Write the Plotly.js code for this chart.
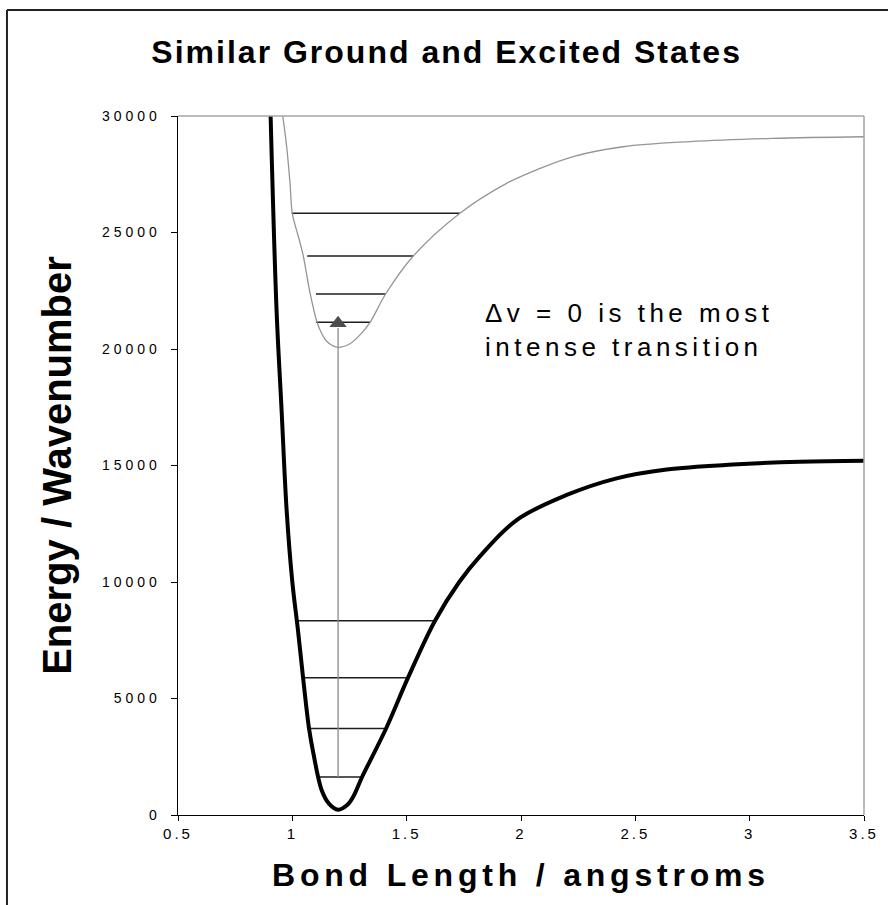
<!DOCTYPE html>
<html>
<head>
<meta charset="utf-8">
<script src="https://cdn.plot.ly/plotly-3.0.1.min.js"></script>
<style>
html, body { margin: 0; padding: 0; background: #ffffff; }
#chart { width: 888px; height: 905px; }
.gtitle { letter-spacing: 2px; }
.xtitle { letter-spacing: 4.8px; }
.xtick text { letter-spacing: 3px; }
.ytick text { letter-spacing: 4px; }
.annotation-text { letter-spacing: 4.5px; }
</style>
</head>
<body>
<div id="chart"></div>
<script>
// Ground state potential curve (bond length / angstroms, energy / wavenumber)
const groundX = [0.905, 0.931, 0.953, 0.975, 1.0, 1.025, 1.047, 1.073, 1.092, 1.128, 1.16, 1.2, 1.24, 1.267, 1.305, 1.41, 1.506, 1.624, 1.73, 1.82, 1.981, 2.2, 2.418, 2.637, 2.927, 3.22, 3.5];
const groundE = [30000, 21670, 17380, 13090, 10000, 7900, 5893, 3712, 2650, 1073, 490, 230, 430, 800, 1631, 3712, 5893, 8340, 10000, 11100, 12660, 13735, 14450, 14830, 15040, 15160, 15200];

// Excited state potential curve
const excitedX = [0.958, 0.975, 0.99, 1.0, 1.03, 1.048, 1.078, 1.108, 1.128, 1.15, 1.175, 1.2, 1.25, 1.3, 1.34, 1.408, 1.529, 1.733, 1.937, 2.083, 2.228, 2.447, 2.739, 3.10, 3.5];
const excitedE = [30000, 28700, 27100, 25825, 24700, 23990, 22375, 21146, 20674, 20330, 20150, 20070, 20215, 20650, 21146, 22361, 23992, 25830, 27110, 27750, 28260, 28680, 28900, 29040, 29110];

// Vibrational levels
const groundLevelE = [1631, 3712, 5893, 8340];
const groundLevelLeft = [1.12, 1.073, 1.047, 1.02];
const groundLevelRight = [1.305, 1.41, 1.506, 1.624];
const excitedLevelE = [21146, 22361, 23992, 25825];
const excitedLevelLeft = [1.103, 1.103, 1.065, 0.997];
const excitedLevelRight = [1.34, 1.408, 1.529, 1.733];

// Vertical transition arrow
const transitionX = [1.2, 1.2];
const transitionE = [1631, 20900];
const arrowHeadX = [1.2];
const arrowHeadE = [21100];

// Axis ticks
const xTickVals = [0.5, 1, 1.5, 2, 2.5, 3, 3.5];
const xTickText = ['0.5', '1', '1.5', '2', '2.5', '3', '3.5'];
const yTickVals = [0, 5000, 10000, 15000, 20000, 25000, 30000];
const yTickText = ['0', '5000', '10000', '15000', '20000', '25000', '30000'];

function levelSegments(lefts, rights, levels) {
  const xs = [], ys = [];
  for (let i = 0; i < levels.length; i++) {
    xs.push(lefts[i], rights[i], null);
    ys.push(levels[i], levels[i], null);
  }
  return { x: xs, y: ys };
}
const gl = levelSegments(groundLevelLeft, groundLevelRight, groundLevelE);
const el = levelSegments(excitedLevelLeft, excitedLevelRight, excitedLevelE);

const FONT = 'Liberation Sans, Arial, Helvetica, sans-serif';

const traces = [
  { x: gl.x, y: gl.y, mode: 'lines', line: { color: '#1e1e1e', width: 1.4 }, hoverinfo: 'skip' },
  { x: el.x, y: el.y, mode: 'lines', line: { color: '#1e1e1e', width: 1.4 }, hoverinfo: 'skip' },
  { x: transitionX, y: transitionE, mode: 'lines', line: { color: '#8a8a8a', width: 1.3 }, hoverinfo: 'skip' },
  { x: arrowHeadX, y: arrowHeadE, mode: 'markers', marker: { symbol: 'triangle-up', size: 15, color: '#4d4d4d' }, hoverinfo: 'skip' },
  { x: excitedX, y: excitedE, mode: 'lines', line: { color: '#959595', width: 1.3, shape: 'spline', smoothing: 1 }, hoverinfo: 'skip' },
  { x: groundX, y: groundE, mode: 'lines', line: { color: '#000000', width: 4, shape: 'spline', smoothing: 1 }, hoverinfo: 'skip' }
];

const layout = {
  width: 888,
  height: 905,
  margin: { l: 178, r: 24, t: 116, b: 90, pad: 0 },
  paper_bgcolor: '#ffffff',
  plot_bgcolor: '#ffffff',
  showlegend: false,
  font: { family: FONT, color: '#000000' },
  title: {
    text: 'Similar Ground and Excited States',
    font: { family: FONT, size: 32, weight: 'bold', color: '#000000' },
    x: 0.503, xref: 'container', xanchor: 'center',
    y: 0.9425, yref: 'container', yanchor: 'middle'
  },
  xaxis: {
    range: [0.5, 3.5],
    tickmode: 'array', tickvals: xTickVals, ticktext: xTickText,
    ticks: 'outside', ticklen: 5, tickwidth: 1, tickcolor: '#000000',
    showline: true, linecolor: '#000000', linewidth: 1.3,
    showgrid: false, zeroline: false,
    tickfont: { family: FONT, size: 15, color: '#000000' },
    title: { text: 'Bond Length / angstroms', font: { family: FONT, size: 32, weight: 'bold', color: '#000000' }, standoff: 22 }
  },
  yaxis: {
    range: [0, 30000],
    tickmode: 'array', tickvals: yTickVals, ticktext: yTickText,
    ticks: 'outside', ticklen: 6, tickwidth: 1, tickcolor: '#000000',
    ticklabelstandoff: 7,
    showline: true, linecolor: '#000000', linewidth: 1.3,
    showgrid: false, zeroline: false,
    tickfont: { family: FONT, size: 14, color: '#000000' },
    title: { text: 'Energy / Wavenumber', font: { family: FONT, size: 40, weight: 'bold', color: '#000000' }, standoff: 18 }
  },
  annotations: [
    {
      x: 1.834, y: 20830, xref: 'x', yref: 'y',
      xanchor: 'left', yanchor: 'middle', align: 'left',
      text: '\u0394v = 0 is the most<br>intense transition',
      showarrow: false,
      font: { family: FONT, size: 26, color: '#000000' }
    }
  ],
  shapes: [
    { type: 'line', xref: 'paper', yref: 'paper', x0: 0, x1: 1, y0: 1, y1: 1, line: { color: '#a6a6a6', width: 1.5 } },
    { type: 'line', xref: 'paper', yref: 'paper', x0: 1, x1: 1, y0: 0, y1: 1, line: { color: '#a6a6a6', width: 1.5 } },
    { type: 'line', xref: 'paper', yref: 'paper', x0: -0.2493, x1: 1.2, y0: 1.1516, y1: 1.1516, line: { color: '#222222', width: 2 } },
    { type: 'line', xref: 'paper', yref: 'paper', x0: -0.2493, x1: -0.2493, y0: -0.2, y1: 1.1516, line: { color: '#222222', width: 2 } }
  ]
};

Plotly.newPlot('chart', traces, layout, { displayModeBar: false, staticPlot: true });
</script>
</body>
</html>
